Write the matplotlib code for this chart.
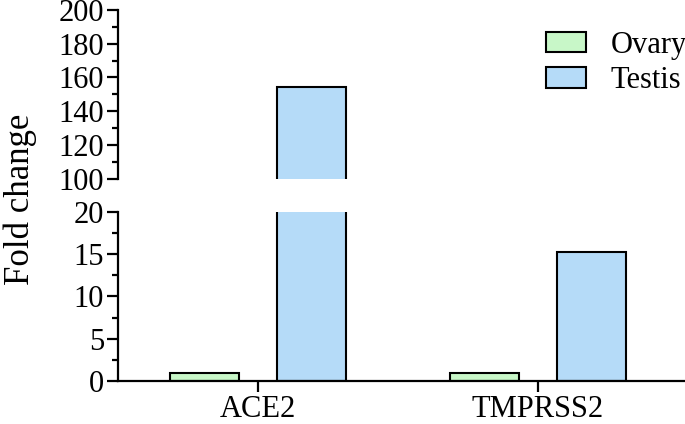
import numpy as np
import matplotlib.pyplot as plt

plt.rcParams['font.family'] = ['Liberation Serif', 'DejaVu Serif']

genes = ['ACE2', 'TMPRSS2']
ovary = [1.0, 1.0]
testis = [154.5, 15.2]
series = ['Ovary', 'Testis']
colors = ['#c8f7c8', '#b5dbf8']

x = np.arange(len(genes))
w = 0.246
off = 0.19

fig = plt.figure(figsize=(6.85, 4.24), dpi=100)
ax_top = fig.add_axes([0.172, 0.578, 0.828, 0.399])
ax_bot = fig.add_axes([0.172, 0.1014, 0.828, 0.399])

for ax in (ax_top, ax_bot):
    ax.bar(x - off, ovary, w, color=colors[0], edgecolor='black', linewidth=1.5, label=series[0])
    ax.bar(x + off, testis, w, color=colors[1], edgecolor='black', linewidth=1.5, label=series[1])
    ax.set_xlim(-0.5, 1.525)
    for s in ['top', 'right']:
        ax.spines[s].set_visible(False)
    ax.spines['left'].set_linewidth(1.6)
    ax.spines['bottom'].set_linewidth(1.6)
    ax.tick_params(axis='y', which='major', length=8, width=1.6, labelsize=22, pad=2)
    ax.tick_params(axis='y', which='minor', length=4, width=1.6)

ax_top.set_ylim(100, 200)
ax_top.set_yticks(np.arange(100, 201, 20))
ax_top.set_yticks(np.arange(110, 200, 20), minor=True)
ax_top.spines['bottom'].set_visible(False)
ax_top.tick_params(axis='x', bottom=False, labelbottom=False)
ax_top.set_yticklabels([str(v) for v in range(100, 201, 20)])

ax_bot.set_ylim(0, 20)
ax_bot.set_yticks([0, 5, 10, 15, 20])
ax_bot.set_yticks(np.arange(2.5, 20, 5), minor=True)
ax_bot.set_xticks(x)
ax_bot.set_xticklabels(genes)
ax_bot.tick_params(axis='x', length=8, width=1.6, labelsize=22, pad=2)

ax_top.legend(loc='upper right', bbox_to_anchor=(1.035, 0.985), frameon=False, fontsize=22,
              handlelength=1.3, handleheight=0.65, handletextpad=0.8, labelspacing=0.22,
              borderaxespad=0.2)

fig.text(0.03, 0.53, 'Fold change', rotation=90, fontsize=25, ha='center', va='center')

fig.savefig('out.png', dpi=100)
